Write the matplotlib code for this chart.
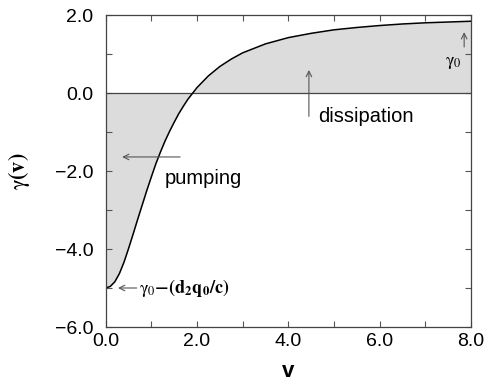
import matplotlib
matplotlib.use("Agg")
import matplotlib.pyplot as plt
from matplotlib.ticker import MultipleLocator, FuncFormatter

plt.rcParams['mathtext.fontset'] = 'stix'

# curve
v = [0.0, 0.1, 0.2, 0.3, 0.4, 0.5, 0.6, 0.7, 0.8, 0.9, 1.0, 1.1, 1.2, 1.3, 1.4,
     1.5, 1.6, 1.7, 1.8, 1.9, 2.0, 2.25, 2.5, 2.75, 3.0, 3.5, 4.0, 4.5, 5.0,
     5.5, 6.0, 6.5, 7.0, 7.5, 8.0]
gamma = [-5.00, -4.96, -4.84, -4.63, -4.34, -3.99, -3.62, -3.24, -2.87, -2.50,
         -2.15, -1.81, -1.51, -1.23, -0.98, -0.75, -0.53, -0.34, -0.16, -0.01,
         0.14, 0.44, 0.68, 0.87, 1.03, 1.26, 1.42, 1.53, 1.62, 1.68, 1.73,
         1.77, 1.80, 1.82, 1.84]

x_ticks = [0.0, 2.0, 4.0, 6.0, 8.0]
y_ticks = [-6.0, -4.0, -2.0, 0.0, 2.0]

fig = plt.figure(figsize=(4.85, 3.86), dpi=100)
ax = fig.add_axes([105.7/485, 1-327/386, (471-105.7)/485, (327-15)/386])

ax.fill_between(v, gamma, 0, color='#dcdcdc', lw=0)
ax.plot([0, 8], [0, 0], color='#444444', lw=0.9)
ax.plot(v, gamma, color='black', lw=1.1)

fmt = FuncFormatter(lambda val, pos: ('%.1f' % val).replace('-', '\u2212'))
ax.set_xlim(0, 8)
ax.set_ylim(-6, 2)
ax.set_xticks(x_ticks)
ax.set_yticks(y_ticks)
ax.xaxis.set_minor_locator(MultipleLocator(1))
ax.yaxis.set_minor_locator(MultipleLocator(1))
ax.xaxis.set_major_formatter(fmt)
ax.yaxis.set_major_formatter(fmt)
ax.tick_params(which='both', direction='in', top=True, right=True,
               length=4, width=0.8, color='#555555')
ax.tick_params(axis='x', labelsize=14, pad=4)
ax.tick_params(axis='y', labelsize=14, pad=9)
for lab in ax.get_xticklabels() + ax.get_yticklabels():
    lab.set_family('Liberation Sans')
for s in ax.spines.values():
    s.set_color('#444444')
    s.set_linewidth(0.9)

ax.set_xlabel('v', fontsize=16, fontweight='bold', family='Liberation Sans', labelpad=8)
ax.set_ylabel(r'$\mathrm{\gamma}\mathbf{(v)}$', fontsize=16)
ax.yaxis.set_label_coords(-0.202, 0.5)

arrow = dict(arrowstyle='->', color='#555555', lw=0.8, shrinkA=0, shrinkB=0)
ax.annotate('', xy=(0.36, -1.64), xytext=(1.63, -1.64), arrowprops=arrow)
ax.text(1.3, -2.18, 'pumping', fontsize=14.5, family='Liberation Sans', va='center')
ax.annotate('', xy=(4.45, 0.59), xytext=(4.45, -0.6), arrowprops=arrow)
ax.text(4.65, -0.6, 'dissipation', fontsize=14.5, family='Liberation Sans', va='center')
ax.annotate('', xy=(7.85, 1.56), xytext=(7.85, 1.18), arrowprops=arrow)
ax.text(7.43, 0.8, r'$\mathrm{\gamma}_0$', fontsize=13, va='center')
ax.annotate('', xy=(0.27, -5.0), xytext=(0.68, -5.0), arrowprops=arrow)
ax.text(0.73, -5.0, r'$\mathrm{\gamma}_0\mathbf{-(d_2q_0/c)}$', fontsize=13, va='center')

fig.savefig('out.png', dpi=100)
